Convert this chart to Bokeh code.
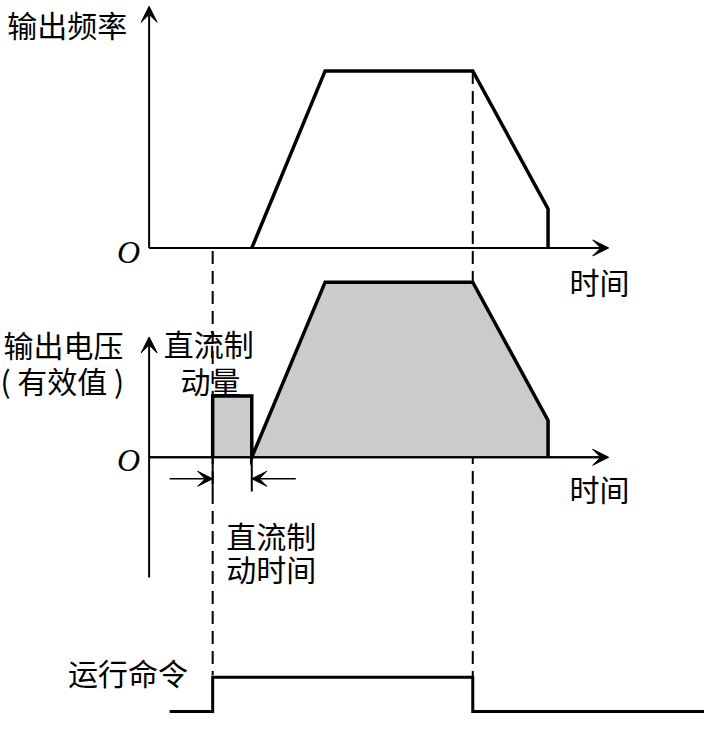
from bokeh.plotting import figure
from bokeh.models import Range1d, Arrow, VeeHead, Label
from bokeh.embed import file_html
from bokeh.resources import INLINE

# ---------------- data (time in arbitrary units, t = 0 at the vertical axes) -------------
freq_t = [10.5, 18.0, 33.1, 40.8, 40.8]          # output frequency breakpoints
freq_v = [0, 100, 100, 22, 0]                    # % of max frequency

brake_t = [6.5, 6.5, 10.5, 10.5]                 # DC braking block
brake_v = [0, 35, 35, 0]
volt_t = [10.5, 18.0, 33.1, 40.8, 40.8]          # output voltage (rms)
volt_v = [0, 100, 100, 21, 0]

cmd_t = [2.1, 6.5, 6.5, 33.1, 33.1, 56.8]        # run command
cmd_v = [0, 0, 1, 1, 0, 0]

t_run_on = 6.5
t_run_off = 33.1

# ---------------- layout (reference-pixel frame) ----------------
W, H = 720, 729
p = figure(width=704, height=713, x_range=Range1d(0, W), y_range=Range1d(H, 0),
           output_backend="svg", toolbar_location=None,
           x_axis_type=None, y_axis_type=None, min_border=0)
p.outline_line_color = None
p.background_fill_color = "white"


def panel_range(base_px, unit_px):
    return Range1d((base_px - H) / unit_px, base_px / unit_px)


X0 = 152
p.extra_x_ranges = {"time": Range1d(-X0 / 10, (W - X0) / 10)}
p.extra_y_ranges = {"freq": panel_range(253, 1.81),
                    "volt": panel_range(467, 1.79),
                    "cmd": panel_range(727, 35)}

def tx(t):
    return X0 + 10 * t

# ---- axes with arrows ----
def arrow(x0, y0, x1, y1, lw=2, size=16):
    p.add_layout(Arrow(end=VeeHead(size=size, fill_color="black", line_color="black", line_width=1),
                       x_start=x0, y_start=y0, x_end=x1, y_end=y1,
                       line_width=lw, line_color="black"))

arrow(X0, 253, X0, 6)
arrow(X0, 253, 622, 253)
arrow(X0, 590, X0, 344)
arrow(X0, 467, 622, 467)

# dashed guide lines
p.line([tx(t_run_on)] * 2, [256, 690], line_color="black", line_width=2, line_dash="13 7")
p.line([tx(t_run_off)] * 2, [72, 692], line_color="black", line_width=2, line_dash="13 7")

# ---- frequency ----
p.line(freq_t, freq_v, x_range_name="time", y_range_name="freq",
       line_color="black", line_width=3.5, line_join="miter")

# ---- voltage ----
p.patch(brake_t, brake_v, x_range_name="time", y_range_name="volt",
        fill_color="#cbcbcb", line_color=None)
p.patch(volt_t, volt_v, x_range_name="time", y_range_name="volt",
        fill_color="#cbcbcb", line_color=None)
p.line(brake_t + volt_t[1:], brake_v + volt_v[1:], x_range_name="time", y_range_name="volt",
       line_color="black", line_width=3.5, line_join="miter")
p.line([X0, 622 - 10], [467, 467], line_color="black", line_width=2)

# dimension marks for braking time
p.line([tx(brake_t[0])] * 2, [467, 502], line_color="black", line_width=2)
p.line([tx(brake_t[-1])] * 2, [467, 502], line_color="black", line_width=2)
arrow(173, 489, tx(brake_t[0]), 489, lw=1.5, size=15)
arrow(302, 489, tx(brake_t[-1]), 489, lw=1.5, size=15)

# ---- run command ----
p.line(cmd_t, cmd_v, x_range_name="time", y_range_name="cmd",
       line_color="black", line_width=3, line_join="miter")

# ---- texts ----
CJK = "Noto Sans CJK SC"
FS = "30px"

def label(x, y, text, size=FS, font=CJK, style="normal", align="left"):
    p.add_layout(Label(x=x, y=y, text=text, text_font=font, text_font_size=size,
                       text_font_style=style, text_align=align, text_baseline="middle",
                       text_color="black"))

label(7, 24, "输出频率")
label(582, 287, "时间")
label(582, 498, "时间")
label(3, 351, "输出电压")
label(0, 388, "( 有效值 )")
label(167, 350, "直流制")
label(184, 388, "动量")
label(231, 547, "直流制")
label(231, 580, "动时间")
label(69, 687, "运行命令")
label(131, 257, "O", size="32px", font="Liberation Serif", style="italic", align="center")
label(131, 470, "O", size="32px", font="Liberation Serif", style="italic", align="center")

open("out.html", "w").write(file_html(p, INLINE))
